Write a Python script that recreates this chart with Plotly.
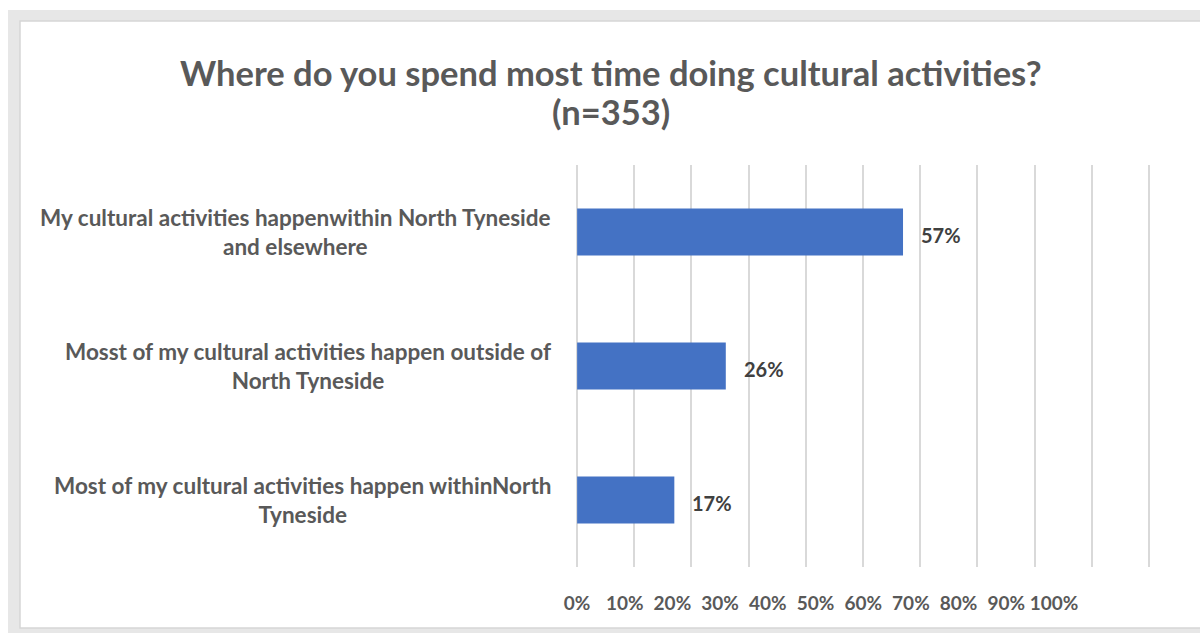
import plotly.graph_objects as go

# Survey responses (n=353)
categories = [
    "My cultural activities happenwithin North Tyneside<br>and elsewhere",
    "Mosst of my cultural activities happen outside of<br>North Tyneside",
    "Most of my cultural activities happen withinNorth<br>Tyneside",
]
shares = [57, 26, 17]
tick_values = [0, 10, 20, 30, 40, 50, 60, 70, 80, 90, 100]
tick_labels = [f"{v}%" for v in tick_values]
title_lines = ["Where do you spend most time doing cultural activities?", "(n=353)"]

W, H = 1200, 633
L, R, T, B = 576, 50, 165, 66
PW, PH = W - L - R, H - T - B

FONT = "Lato"
GREY = "#595959"


def px_x(p):
    return (p - L) / PW


def px_y(p):
    return 1 - (p - T) / PH


fig = go.Figure()

fig.add_trace(go.Bar(
    y=list(range(len(categories))),
    x=shares,
    orientation="h",
    marker=dict(color="#4472C4", line=dict(width=0)),
    width=0.35,
    showlegend=False,
    hoverinfo="skip",
))

# invisible trace that carries the compact percentage scale underneath
fig.add_trace(go.Scatter(
    x=[0, 100], y=[0, 0], xaxis="x2", yaxis="y",
    mode="markers", marker=dict(opacity=0), showlegend=False, hoverinfo="skip",
))

# value labels just beyond each bar end
for i, v in enumerate(shares):
    fig.add_annotation(
        x=v, xref="x", y=i, yref="y", text=f"<b>{v}%</b>", showarrow=False,
        xanchor="left", yanchor="middle", xshift=16, yshift=-3,
        font=dict(family=FONT, size=20, color="#404040"),
    )

# category labels, centred line-by-line to the left of the bars
for i, cat in enumerate(categories):
    fig.add_annotation(
        x=px_x(553), xref="paper", y=i, yref="y",
        text=f"<b>{cat}</b>", showarrow=False,
        xanchor="right", yanchor="middle", align="center",
        font=dict(family=FONT, size=22.5, color=GREY),
    )

for line, ypix in zip(title_lines, [73, 112]):
    fig.add_annotation(
        x=px_x(611), xref="paper", y=px_y(ypix), yref="paper",
        text=f"<b>{line}</b>", showarrow=False,
        xanchor="center", yanchor="middle",
        font=dict(family=FONT, size=34.5, color=GREY),
    )

# outer frame
fig.add_shape(type="rect", xref="paper", yref="paper", layer="below",
              x0=px_x(8), x1=px_x(1200), y0=px_y(633), y1=px_y(10),
              fillcolor="#e7e7e7", line=dict(width=0))
fig.add_shape(type="rect", xref="paper", yref="paper", layer="below",
              x0=px_x(20), x1=px_x(1203), y0=px_y(628), y1=px_y(21),
              fillcolor="white", line=dict(color="#d6d6d6", width=1.5))

fig.update_layout(
    width=W, height=H,
    margin=dict(l=L, r=R, t=T, b=B),
    paper_bgcolor="white",
    plot_bgcolor="rgba(0,0,0,0)",
    xaxis=dict(
        range=[-0.2, 100.2], tickvals=tick_values, showticklabels=False,
        showgrid=True, gridcolor="#d9d9d9", gridwidth=2,
        zeroline=True, zerolinecolor="#d9d9d9", zerolinewidth=2,
        showline=False, fixedrange=True, automargin=False,
    ),
    xaxis2=dict(
        domain=[px_x(577), px_x(1054)], range=[0, 100],
        tickvals=tick_values, ticktext=tick_labels, tickangle=0,
        anchor="free", position=0, automargin=False,
        showgrid=False, zeroline=False, showline=False,
        ticks="", ticklabelstandoff=23,
        tickfont=dict(family=FONT, size=19, color=GREY, weight="bold"),
    ),
    yaxis=dict(
        range=[2.5, -0.5], showticklabels=False, showgrid=False,
        zeroline=False, showline=False, fixedrange=True, automargin=False,
    ),
)

fig.write_html("out.html")
